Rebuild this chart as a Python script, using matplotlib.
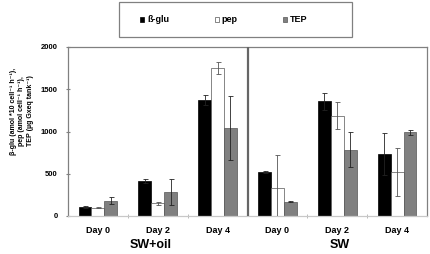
import numpy as np
import matplotlib
matplotlib.use("Agg")
import matplotlib.pyplot as plt
from matplotlib.patches import Rectangle

plt.rcParams['font.family'] = ['Liberation Sans', 'DejaVu Sans']
plt.rcParams['font.weight'] = 'bold'

# Data
days = ["Day 0", "Day 2", "Day 4", "Day 0", "Day 2", "Day 4"]
groups = ["SW+oil", "SW"]

bglu = [105, 415, 1375, 520, 1360, 735]
bglu_err = [10, 25, 60, 12, 100, 250]
pep = [100, 150, 1750, 330, 1185, 520]
pep_err = [5, 15, 75, 395, 160, 280]
tep = [180, 285, 1045, 170, 785, 990]
tep_err = [40, 150, 380, 8, 210, 30]

fig = plt.figure(figsize=(4.3, 2.54), dpi=100)
ax = fig.add_axes([68 / 430, 38 / 254, 359 / 430, 169 / 254])

x = np.arange(len(days)) + 0.5
w = 0.215
ekw = dict(lw=0.6, capsize=1.8, capthick=0.6)

ax.bar(x - w, bglu, w, color='black', edgecolor='black', lw=0.5, label='ß-glu', zorder=2)
ax.bar(x, pep, w, color='white', edgecolor='#555555', lw=0.5, label='pep', zorder=2)
ax.bar(x + w, tep, w, color='#808080', edgecolor='#555555', lw=0.5, label='TEP', zorder=2)
ax.errorbar(x - w, bglu, yerr=bglu_err, fmt='none', ecolor='#222222', zorder=3, **ekw)
ax.errorbar(x, pep, yerr=pep_err, fmt='none', ecolor='#555555', zorder=3, **ekw)
ax.errorbar(x + w, tep, yerr=tep_err, fmt='none', ecolor='#222222', zorder=3, **ekw)

ax.set_xlim(0, 6)
ax.set_ylim(0, 2000)
ax.axvline(3, color='#666666', lw=1.6, zorder=4)

ax.set_yticks([0, 500, 1000, 1500, 2000])
ax.set_xticks(x)
ax.set_xticklabels(days, fontsize=6.5, fontweight='bold')
ax.set_xticks([1, 2, 4, 5], minor=True)
ax.tick_params(axis='x', which='major', length=0, pad=7)
ax.tick_params(axis='x', which='minor', length=3, direction='inout', color='#b0b0b0')
ax.tick_params(axis='y', labelsize=5.5, length=3, direction='inout', color='#808080', pad=6)
for lab in ax.get_yticklabels():
    lab.set_fontweight('bold')

for side in ['top', 'right', 'left']:
    ax.spines[side].set_color('#808080')
    ax.spines[side].set_linewidth(0.9)
ax.spines['bottom'].set_color('#c8c8c8')
ax.spines['bottom'].set_linewidth(0.9)

fig.text(151 / 430, 1 - 245 / 254, groups[0], fontsize=9, fontweight='bold', ha='center', va='center')
fig.text(340 / 430, 1 - 245 / 254, groups[1], fontsize=9, fontweight='bold', ha='center', va='center')

fig.text(22 / 430, 1 - 111 / 254,
         "β-glu (amol *10 cell⁻¹ h⁻¹),\npep (amol cell⁻¹ h⁻¹),\nTEP (µg Gxeq tank⁻¹)",
         rotation=90, fontsize=5, fontweight='bold', ha='center', va='center',
         multialignment='center', linespacing=1.25)

# legend box drawn separately, entries centered inside it
fig.patches.append(Rectangle((119 / 430, 1 - 37 / 254), 233 / 430, 35 / 254,
                             transform=fig.transFigure, facecolor='white',
                             edgecolor='#808080', lw=0.9, zorder=0))
leg = fig.legend(loc='center', bbox_to_anchor=(224 / 430, 1 - 20 / 254),
                 ncol=3, fontsize=6.5, frameon=False, columnspacing=5.0,
                 handlelength=0.45, handleheight=0.45, handletextpad=0.35)
for t in leg.get_texts():
    t.set_fontweight('bold')

fig.savefig('out.png', dpi=100)
